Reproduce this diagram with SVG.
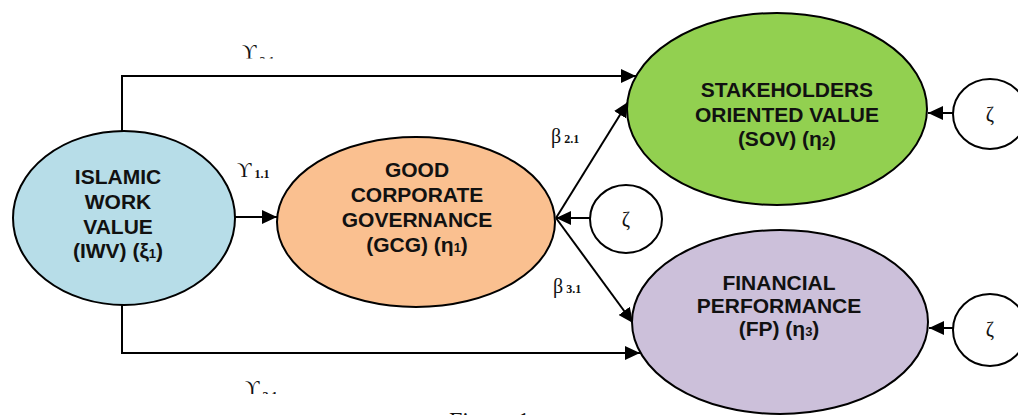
<svg xmlns="http://www.w3.org/2000/svg" width="1018" height="415" viewBox="0 0 1018 415">
<style>
.node{stroke:#000;stroke-width:2}
.lbl{font-family:"Liberation Sans",Arial,sans-serif;font-weight:bold;font-size:21px;fill:#111;text-anchor:middle}
.sub{font-size:13px}
.gk{font-family:"Liberation Serif","Times New Roman",serif;font-size:20px;fill:#111}
.gs{font-family:"Liberation Serif","Times New Roman",serif;font-size:12px;font-weight:bold;fill:#111}
.con{stroke:#000;stroke-width:2;fill:none}
</style>
<defs>
<marker id="ah" markerUnits="userSpaceOnUse" markerWidth="16" markerHeight="14" refX="15" refY="7" orient="auto">
<path d="M0,0 L15,7 L0,14 z" fill="#000"/>
</marker>
<clipPath id="clipTop"><rect x="0" y="0" width="1018" height="58.5"/></clipPath>
<clipPath id="clipBot"><rect x="0" y="0" width="1018" height="394"/></clipPath>
</defs>
<rect width="1018" height="415" fill="#fff"/>

<g id="connectors">
<line class="con" x1="235" y1="217" x2="277" y2="217" marker-end="url(#ah)"/>
<polyline class="con" points="122,131 122,76 636,76" marker-end="url(#ah)"/>
<polyline class="con" points="122,305 122,353 640,353" marker-end="url(#ah)"/>
<line class="con" x1="556" y1="218" x2="628" y2="102" marker-end="url(#ah)"/>
<line class="con" x1="556" y1="218" x2="633" y2="323" marker-end="url(#ah)"/>
<line class="con" x1="590" y1="218" x2="556" y2="218" marker-end="url(#ah)"/>
<line class="con" x1="953" y1="113" x2="928" y2="113" marker-end="url(#ah)"/>
<line class="con" x1="953" y1="328" x2="929" y2="328" marker-end="url(#ah)"/>
</g>

<g id="iwv">
<ellipse class="node" cx="124" cy="218" rx="111" ry="87" fill="#b7dde8"/>
<text class="lbl" x="118" y="184">ISLAMIC</text>
<text class="lbl" x="118" y="209">WORK</text>
<text class="lbl" x="118" y="234">VALUE</text>
<text class="lbl" x="118" y="258">(IWV) (ξ<tspan class="sub">1</tspan>)</text>
</g>

<g id="gcg">
<ellipse class="node" cx="416" cy="222" rx="139" ry="85" fill="#fac090"/>
<text class="lbl" x="417" y="177">GOOD</text>
<text class="lbl" x="417" y="202">CORPORATE</text>
<text class="lbl" x="417" y="227">GOVERNANCE</text>
<text class="lbl" x="417" y="252">(GCG) (η<tspan class="sub">1</tspan>)</text>
</g>

<g id="sov">
<ellipse class="node" cx="777" cy="109" rx="150" ry="96" fill="#92d050"/>
<text class="lbl" x="787" y="97">STAKEHOLDERS</text>
<text class="lbl" x="787" y="122">ORIENTED VALUE</text>
<text class="lbl" x="787" y="146">(SOV) (η<tspan class="sub">2</tspan>)</text>
</g>

<g id="fp">
<ellipse class="node" cx="780" cy="322" rx="148" ry="92" fill="#ccc0da"/>
<text class="lbl" x="779" y="290">FINANCIAL</text>
<text class="lbl" x="779" y="313">PERFORMANCE</text>
<text class="lbl" x="779" y="336">(FP) (η<tspan class="sub">3</tspan>)</text>
</g>

<g id="zeta1">
<ellipse class="node" cx="626" cy="219" rx="36" ry="34" fill="#fff"/>
<text class="gk" x="626" y="226" text-anchor="middle">ζ</text>
</g>
<g id="zeta2">
<ellipse class="node" cx="990" cy="114" rx="37" ry="35" fill="#fff"/>
<text class="gk" x="990" y="121" text-anchor="middle">ζ</text>
</g>
<g id="zeta3">
<ellipse class="node" cx="990" cy="330" rx="37" ry="36" fill="#fff"/>
<text class="gk" x="990" y="336" text-anchor="middle">ζ</text>
</g>

<g id="labels">
<text class="gk" x="237" y="177">ϒ<tspan class="gs" dx="3" dy="1">1.1</tspan></text>
<text class="gk" x="551" y="143">β<tspan class="gs" dx="3">2.1</tspan></text>
<text class="gk" x="553" y="293">β<tspan class="gs" dx="3">3.1</tspan></text>
<g clip-path="url(#clipTop)">
<text class="gk" x="242" y="59">ϒ<tspan class="gs" dx="3" dy="6">2.1</tspan></text>
</g>
<g clip-path="url(#clipBot)">
<text class="gk" x="245" y="395">ϒ<tspan class="gs" dx="3" dy="5">3.1</tspan></text>
</g>
<text class="gk" x="449" y="428" style="font-size:24px">Figure 1</text>
</g>
</svg>
